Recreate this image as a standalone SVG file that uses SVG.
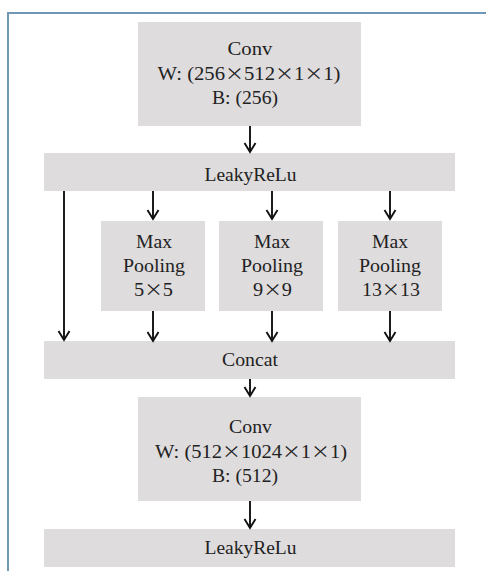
<svg xmlns="http://www.w3.org/2000/svg" width="486" height="571" viewBox="0 0 486 571">
<defs>
<style>
.box{fill:#dedcdd;}
.t{font-family:"Liberation Serif","Times New Roman",serif;font-size:18.5px;fill:#222;text-anchor:middle;}
.x{font-family:"Noto Sans CJK SC",sans-serif;font-size:17px;}
.c line{stroke:#111;stroke-width:1.9;marker-end:url(#ah);}
</style>
<marker id="ah" markerUnits="userSpaceOnUse" markerWidth="14" markerHeight="14" viewBox="-12 -7 14 14" refX="0" refY="0" orient="auto" overflow="visible">
<path d="M-9,-5.5 L0,0 L-9,5.5" fill="none" stroke="#111" stroke-width="1.9"/>
</marker>
</defs>
<rect width="486" height="571" fill="#fff"/>
<path d="M8,571 L8,13 L486,13" fill="none" stroke="#6f97b6" stroke-width="2"/>
<g id="conv1">
<rect class="box" x="138" y="22" width="223" height="104"/>
<text class="t" x="250" y="55" textLength="45" lengthAdjust="spacingAndGlyphs">Conv</text>
<text class="t" x="249" y="80" textLength="183" lengthAdjust="spacingAndGlyphs">W: (256<tspan class="x">×</tspan>512<tspan class="x">×</tspan>1<tspan class="x">×</tspan>1)</text>
<text class="t" x="245" y="104" textLength="66" lengthAdjust="spacingAndGlyphs">B: (256)</text>
</g>
<g id="leaky1">
<rect class="box" x="44" y="153" width="411" height="38"/>
<text class="t" x="250.5" y="180.5" textLength="92" lengthAdjust="spacingAndGlyphs">LeakyReLu</text>
</g>
<g id="pool5">
<rect class="box" x="101" y="221" width="104" height="90"/>
<text class="t" x="154" y="247.5" textLength="36" lengthAdjust="spacingAndGlyphs">Max</text>
<text class="t" x="154" y="271.5" textLength="62" lengthAdjust="spacingAndGlyphs">Pooling</text>
<text class="t" x="153.5" y="295.5" textLength="39" lengthAdjust="spacingAndGlyphs">5<tspan class="x">×</tspan>5</text>
</g>
<g id="pool9">
<rect class="box" x="219" y="221" width="104" height="90"/>
<text class="t" x="272" y="247.5" textLength="36" lengthAdjust="spacingAndGlyphs">Max</text>
<text class="t" x="272" y="271.5" textLength="62" lengthAdjust="spacingAndGlyphs">Pooling</text>
<text class="t" x="272.5" y="295.5" textLength="39" lengthAdjust="spacingAndGlyphs">9<tspan class="x">×</tspan>9</text>
</g>
<g id="pool13">
<rect class="box" x="338" y="221" width="104" height="90"/>
<text class="t" x="390" y="247.5" textLength="36" lengthAdjust="spacingAndGlyphs">Max</text>
<text class="t" x="390" y="271.5" textLength="62" lengthAdjust="spacingAndGlyphs">Pooling</text>
<text class="t" x="391" y="295.5" textLength="58" lengthAdjust="spacingAndGlyphs">13<tspan class="x">×</tspan>13</text>
</g>
<g id="concat">
<rect class="box" x="44" y="341" width="411" height="38"/>
<text class="t" x="250" y="366" textLength="56" lengthAdjust="spacingAndGlyphs">Concat</text>
</g>
<g id="conv2">
<rect class="box" x="138" y="397" width="223" height="104"/>
<text class="t" x="250.5" y="433" textLength="43" lengthAdjust="spacingAndGlyphs">Conv</text>
<text class="t" x="251" y="458" textLength="192" lengthAdjust="spacingAndGlyphs">W: (512<tspan class="x">×</tspan>1024<tspan class="x">×</tspan>1<tspan class="x">×</tspan>1)</text>
<text class="t" x="245" y="482" textLength="66" lengthAdjust="spacingAndGlyphs">B: (512)</text>
</g>
<g id="leaky2">
<rect class="box" x="44" y="529" width="411" height="38"/>
<text class="t" x="250.5" y="553.5" textLength="92" lengthAdjust="spacingAndGlyphs">LeakyReLu</text>
</g>
<g class="c" id="connectors">
<line x1="250" y1="126" x2="250" y2="152"/>
<line x1="64" y1="191" x2="64" y2="340"/>
<line x1="153" y1="191" x2="153" y2="219"/>
<line x1="272" y1="191" x2="272" y2="219"/>
<line x1="390" y1="191" x2="390" y2="219"/>
<line x1="153" y1="311" x2="153" y2="341"/>
<line x1="272" y1="311" x2="272" y2="341"/>
<line x1="390" y1="311" x2="390" y2="341"/>
<line x1="250" y1="379" x2="250" y2="396"/>
<line x1="250" y1="501" x2="250" y2="528"/>
</g>
</svg>
